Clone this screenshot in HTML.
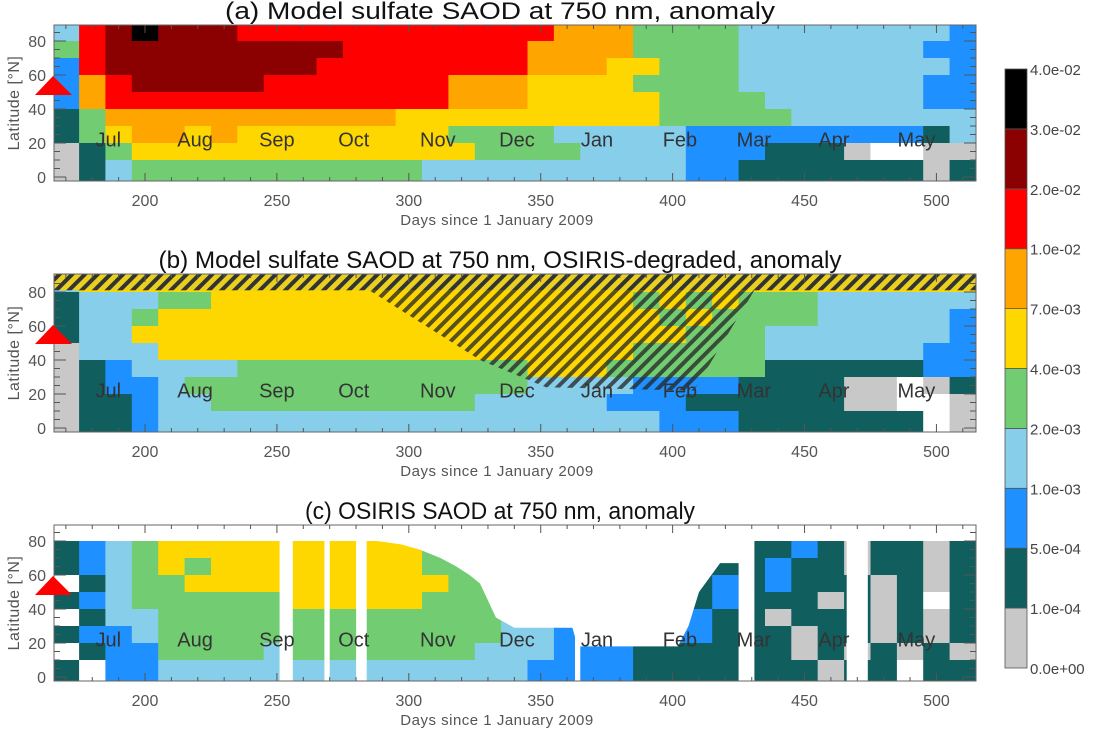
<!DOCTYPE html>
<html><head><meta charset="utf-8"><style>
html,body{margin:0;padding:0;background:#fff;}
svg{display:block;font-family:"Liberation Sans",sans-serif;}
</style></head><body>
<svg id="chart" width="1098" height="729" viewBox="0 0 1098 729">
<defs>
<pattern id="hatch" patternUnits="userSpaceOnUse" width="9" height="9" patternTransform="rotate(45)">
<rect x="0" y="0" width="4" height="9" fill="#222" fill-opacity="0.75"/>
</pattern>
<pattern id="hatchY" patternUnits="userSpaceOnUse" width="9" height="9" patternTransform="rotate(45)">
<rect x="0" y="0" width="9" height="9" fill="#e8d020"/>
<rect x="0" y="0" width="4" height="9" fill="#333"/>
</pattern>
</defs>
</svg>
<script>
// ---- data ----
const levelColors = ["#c8c8c8","#115e5e","#1e90ff","#87ceeb","#72cc72","#ffd700","#ffa500","#ff0000","#8b0000","#000000"];
const levelLabels = ["0.0e+00","1.0e-04","5.0e-04","1.0e-03","2.0e-03","4.0e-03","7.0e-03","1.0e-02","2.0e-02","3.0e-02","4.0e-02"];
const binStartDay = 165, binWidth = 10, nBins = 35;
const latBands = [80,70,60,50,40,30,20,10,0];
const xTicks = [200,250,300,350,400,450,500];
const yTicks = [0,20,40,60,80];
const monthNames = ["Jul","Aug","Sep","Oct","Nov","Dec","Jan","Feb","Mar","Apr","May"];
const monthDays = [182,213,244,274,305,335,366,397,425,456,486];
const gridA = [
"37898887777777777776664444333333332",
"47888888888777777766664444333333322",
"27888888887777777766655444333333332",
"26788888777777766655554444333333322",
"26777777777777766655555444433333322",
"14666666666665555555555444443333333",
"14566565555555544443333322222222213",
"0145555555555555444433332221110ww00",
"01344444444444333333333322111111101"
];
const gridB = [
"35555555555555555555555555555555555",
"13334455555555555555554545444333333",
"13345555555555555555555454444333332",
"13355555555555555555555544433333332",
"03335555555555555555554444433333322",
"01233334444444444455544444411111122",
"01223444444444444433332222111100w01",
"01123344444444443333322211111100ww0",
"011233333333333333333332221111111w0"
];
const gridC = [
"123455555555554443333333121211011w1",
"12345555555555444333333312112101101",
"12345455555555444333333311121101101",
"w1344555555555544333333312121110101",
"123444444555554443333333121110101w1",
"w1334444444444444333333321101110101",
"12234444444444444332222221110110101",
"w1224444344444443332221111110101010",
"1w223333333333333322221111111011w11"
];
const covDay = [165,288,297,304,312,318,323,327,330,333,340,362,364,402,406,410,418,425,431,515];
const covTop = [80,80,78,75,70,65,60,55,45,35,29,29,18,18,30,50,67,67,80,80];
const gapStart = [251,268,280,363,425,466];
const gapEnd = [256,270,284,365,431,474];
const hatchDay = [285,431,408,352,327];
const hatchLat = [81,81,22,24,40];

// ---- geometry ----
const X0 = 54, X1 = 976, D0 = 165.5, D1 = 515;
function xS(d){ return X0 + (d - D0) * (X1 - X0) / (D1 - D0); }
const panels = [
 {id:"a", top:25, bottom:181, title:"(a) Model sulfate SAOD at 750 nm, anomaly", tl:550},
 {id:"b", top:274, bottom:432, title:"(b) Model sulfate SAOD at 750 nm, OSIRIS-degraded, anomaly", tl:683},
 {id:"c", top:525, bottom:681, title:"(c) OSIRIS SAOD at 750 nm, anomaly", tl:390}
];
panels[0].grid = gridA; panels[1].grid = gridB; panels[2].grid = gridC;
const NS = "http://www.w3.org/2000/svg";
const svg = document.getElementById("chart");
function mk(tag, attrs, parent){
  const e = document.createElementNS(NS, tag);
  for (const k in attrs) e.setAttribute(k, attrs[k]);
  (parent || svg).appendChild(e);
  return e;
}

panels.forEach(p => {
  const yS = lat => p.bottom - 4 - lat * 1.7;
  const g = mk("g", {});
  
  
  const clipId = "clip" + p.id;
  const cp = mk("clipPath", {id: clipId}, g);
  mk("rect", {x:X0, y:p.top, width:X1-X0, height:p.bottom-p.top}, cp);
  const field = mk("g", {"clip-path":"url(#"+clipId+")"}, g);
  
  
  p.grid.forEach((row, r) => {
    const latLo = latBands[r];
    const yTop = r === 0 ? p.top : yS(latLo + 10);
    const yBot = r === latBands.length - 1 ? p.bottom : yS(latLo);
    for (let c = 0; c < nBins; c++) {
      const ch = row[c] || row[row.length - 1];
      const d0 = binStartDay + c * binWidth;
      const xa = c === 0 ? X0 : xS(d0), xb = xS(d0 + binWidth);
      const fill = ch === "w" ? "#ffffff" : levelColors[+ch];
      const cell = mk("rect", {x:xa.toFixed(1), y:yTop.toFixed(1), width:(xb-xa+0.6).toFixed(1), height:(yBot-yTop+0.6).toFixed(1), fill:fill}, field);
      
      
    }
  });
  if (p.id === "b") {
    const strip = mk("rect", {x:X0, y:p.top, width:X1-X0, height:yS(81)-p.top, fill:"url(#hatchY)"}, field);
    
    
    const pts = hatchDay.map((d,i) => xS(d).toFixed(1) + "," + yS(hatchLat[i]).toFixed(1)).join(" ");
    const hz = mk("polygon", {points:pts, fill:"url(#hatch)"}, field);
    
    
  }
  if (p.id === "c") {
    let pts = xS(covDay[0]-1).toFixed(1) + "," + p.top;
    covDay.forEach((d,i) => { pts += " " + xS(d).toFixed(1) + "," + yS(covTop[i]).toFixed(1); });
    pts += " " + xS(covDay[covDay.length-1]+1).toFixed(1) + "," + p.top;
    const m = mk("polygon", {points:pts, fill:"#fff"}, field);
    
    
    const topStrip = mk("rect", {x:X0, y:p.top, width:X1-X0, height:yS(80)-p.top, fill:"#fff"}, field);
    
    
    gapStart.forEach((s,i) => {
      const gr = mk("rect", {x:xS(s).toFixed(1), y:p.top, width:(xS(gapEnd[i])-xS(s)).toFixed(1), height:p.bottom-p.top, fill:"#fff"}, field);
      
      
    });
  }
  monthNames.forEach((mname, i) => {
    const t = mk("text", {x:xS(monthDays[i]) - 2, y:yS(18), "font-size":20, fill:"#333"}, g);
    t.textContent = mname;
    
    
  });
  const fr = mk("rect", {x:X0, y:p.top, width:X1-X0, height:p.bottom-p.top, fill:"none", stroke:"#666", "stroke-width":1}, g);
  
  
  for (let lat = 0; lat <= 85; lat += 5) {
    const len = lat % 20 === 0 ? 12 : 6;
    mk("line", {x1:X0, x2:X0+len, y1:yS(lat), y2:yS(lat), stroke:"#555"}, g);
    mk("line", {x1:X1, x2:X1-len, y1:yS(lat), y2:yS(lat), stroke:"#555"}, g);
  }
  yTicks.forEach(v => {
    const t = mk("text", {x:X0-8, y:yS(v)+6, "font-size":16, fill:"#555", "text-anchor":"end"}, g);
    t.textContent = v;
    
    
  });
  for (let d = 170; d <= 515; d += 10) {
    const len = d % 50 === 0 ? 8 : 4;
    mk("line", {x1:xS(d), x2:xS(d), y1:p.bottom, y2:p.bottom-len, stroke:"#555"}, g);
    mk("line", {x1:xS(d), x2:xS(d), y1:p.top, y2:p.top+len, stroke:"#555"}, g);
  }
  xTicks.forEach(v => {
    const t = mk("text", {x:xS(v), y:p.bottom+25, "font-size":16, fill:"#555", "text-anchor":"middle"}, g);
    t.textContent = v;
    
    
  });
  const xt = mk("text", {x:497, y:p.bottom+44, "font-size":15, fill:"#555", "text-anchor":"middle", "letter-spacing":"0.5"}, g);
  xt.textContent = "Days since 1 January 2009";
  
  
  const yt = mk("text", {x:0, y:0, "font-size":16, fill:"#555", "text-anchor":"middle", transform:"translate(19," + ((p.top+p.bottom)/2) + ") rotate(-90)", "letter-spacing":"0.5"}, g);
  yt.textContent = "Latitude [°N]";
  
  
  const tt = mk("text", {x:500 - p.tl/2, y:p.top-6, "font-size":24, fill:"#111", textLength:p.tl, lengthAdjust:"spacingAndGlyphs"}, g);
  tt.textContent = p.title;
  
  
  const tri = mk("polygon", {points:"53," + (p.top+51) + " 35," + (p.top+70) + " 72," + (p.top+70), fill:"#ff0000"}, g);
  
  
});

const cbTop = 69, cbBot = 668, cbX = 1005, cbW = 22;
const step = (cbBot - cbTop) / levelColors.length;
const cb = mk("g", {});


levelColors.forEach((col, i) => {
  const r = mk("rect", {x:cbX, y:(cbBot - (i+1)*step).toFixed(1), width:cbW, height:step.toFixed(1), fill:col, stroke:"#555", "stroke-width":0.8}, cb);
  
  
});
levelLabels.forEach((lab, i) => {
  const t = mk("text", {x:cbX+cbW+3, y:(cbBot - i*step + 6).toFixed(1), "font-size":15, fill:"#444"}, cb);
  t.textContent = lab;
  
  
});
</script>
</body></html>
